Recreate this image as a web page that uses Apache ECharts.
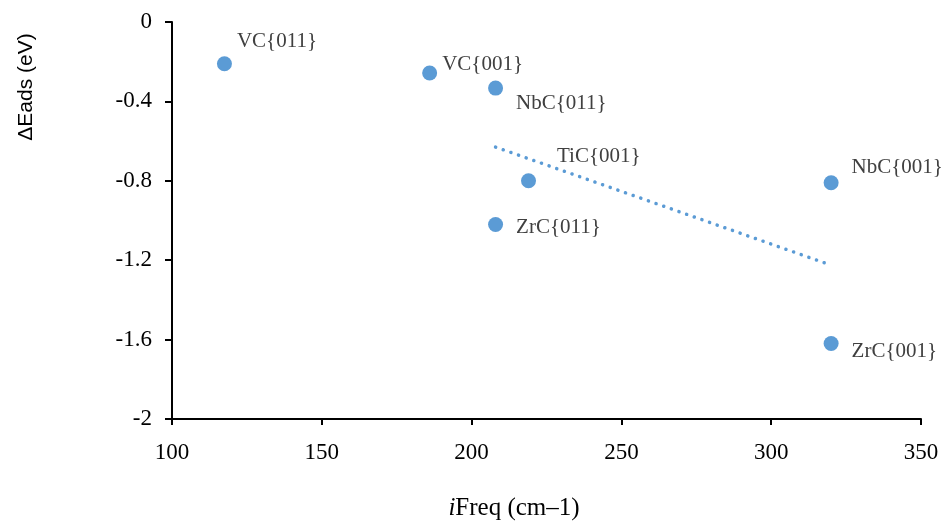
<!DOCTYPE html>
<html>
<head>
<meta charset="utf-8">
<script src="https://cdn.jsdelivr.net/npm/echarts@6/dist/echarts.min.js"></script>
<style>
  html, body { margin: 0; padding: 0; background: #fff; }
  #chart { width: 943px; height: 523px; }
</style>
</head>
<body>
<div id="chart"></div>
<script>
// carbide surfaces: imaginary frequency vs adsorption energy change
const names = ["VC{011}", "VC{001}", "NbC{011}", "TiC{001}", "ZrC{011}", "NbC{001}", "ZrC{001}"];
const freqs = [117.5, 186, 208, 219, 208, 320, 320];
const dEads = [-0.21, -0.257, -0.333, -0.80, -1.02, -0.81, -1.62];

// linear trendline end points as drawn
const trendFreq = [208, 320];
const trendEads = [-0.63, -1.225];

const yTicks = [0, -0.4, -0.8, -1.2, -1.6, -2];

// label nudges [dx, dy] so text sits where the original has it
const labelNudge = [[0, -22], [0, -9], [8, 15], [16, -24], [8, 3], [8, -15], [8, 8]];

const blue = "#5B9BD5";
const serif = "'Liberation Serif', 'Times New Roman', serif";

const chart = echarts.init(document.getElementById("chart"));

const pointData = names.map((n, i) => ({
  name: n,
  value: [freqs[i], dEads[i]],
  label: { offset: labelNudge[i] },
}));

const option = {
  backgroundColor: "#fff",
  animation: false,
  grid: { left: 172, right: 22, top: 22, bottom: 104 },
  xAxis: {
    type: "value",
    min: 100,
    max: 350,
    interval: 50,
    splitLine: { show: false },
    axisLine: { onZero: false, lineStyle: { color: "#000", width: 2 } },
    axisTick: { show: true, length: 6, lineStyle: { color: "#000", width: 2 } },
    axisLabel: { margin: 22, color: "#000", fontFamily: serif, fontSize: 23 },
  },
  yAxis: {
    type: "value",
    min: -2,
    max: 0,
    interval: 0.4,
    splitLine: { show: false },
    axisLine: { show: true, onZero: false, lineStyle: { color: "#000", width: 2 } },
    axisTick: { show: true, length: 7, lineStyle: { color: "#000", width: 2 } },
    axisLabel: {
      margin: 20,
      color: "#000",
      fontFamily: serif,
      fontSize: 23,
      formatter: (v) => {
        const t = yTicks.find((k) => Math.abs(k - v) < 1e-6);
        return String(t !== undefined ? t : v);
      },
    },
  },
  series: [
    {
      name: "trend",
      type: "line",
      data: trendFreq.map((x, i) => [x, trendEads[i]]),
      showSymbol: false,
      symbol: "none",
      lineStyle: { color: blue, width: 3.5, type: [0.1, 8], cap: "round" },
      z: 1,
    },
    {
      name: "surfaces",
      type: "scatter",
      data: pointData,
      symbolSize: 15,
      itemStyle: { color: blue, opacity: 1 },
      label: {
        show: true,
        position: "right",
        formatter: (p) => p.name,
        color: "#404040",
        fontFamily: serif,
        fontSize: 21,
      },
      z: 2,
    },
  ],
  graphic: [
    {
      type: "text",
      x: 26,
      y: 87,
      rotation: Math.PI / 2,
      style: {
        text: "ΔEads (eV)",
        fill: "#000",
        font: "21px 'Liberation Sans', Arial, sans-serif",
        align: "center",
        verticalAlign: "middle",
      },
    },
    {
      type: "text",
      x: 514,
      y: 508,
      style: {
        text: "{i|i}{n|Freq (cm–1)}",
        align: "center",
        verticalAlign: "middle",
        rich: {
          i: { fontFamily: serif, fontSize: 25, fontStyle: "italic", fill: "#000" },
          n: { fontFamily: serif, fontSize: 25, fill: "#000" },
        },
      },
    },
  ],
};

chart.setOption(option);
</script>
</body>
</html>
